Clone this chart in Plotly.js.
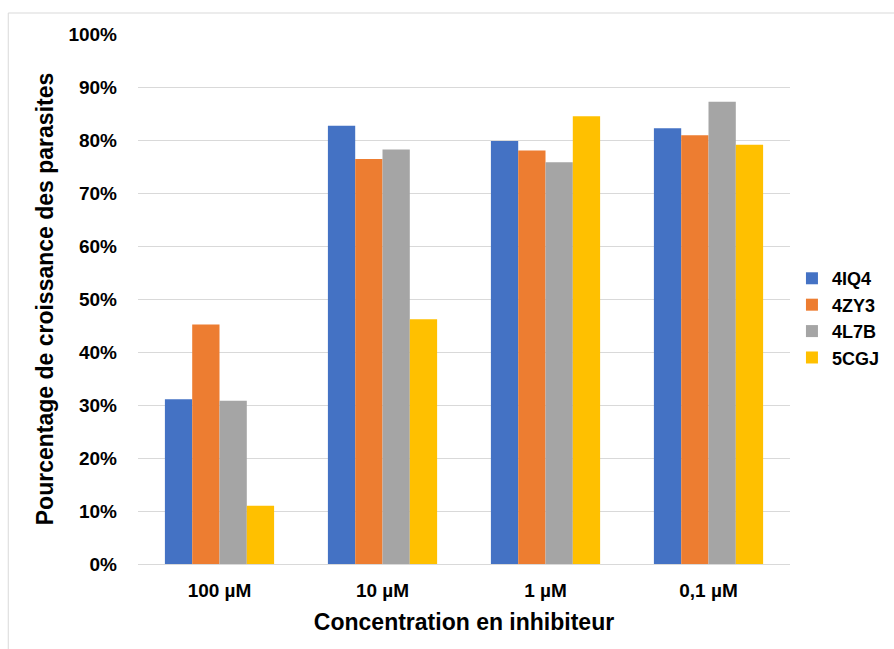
<!DOCTYPE html>
<html><head><meta charset="utf-8">
<script src="https://cdn.plot.ly/plotly-3.0.1.min.js"></script>
<style>html,body{margin:0;padding:0;background:#fff}#chart{width:894px;height:649px}</style>
</head><body><div id="chart"></div>
<script>
const categories = ["100 µM", "10 µM", "1 µM", "0,1 µM"];
const seriesNames = ["4IQ4", "4ZY3", "4L7B", "5CGJ"];
const s4IQ4 = [31.1, 82.7, 79.8, 82.2];
const s4ZY3 = [45.2, 76.4, 78.0, 80.9];
const s4L7B = [30.8, 78.2, 75.8, 87.2];
const s5CGJ = [11.0, 46.2, 84.5, 79.1];
const colors = ["#4472C4", "#ED7D31", "#A5A5A5", "#FFC000"];
const yTickVals = [0,10,20,30,40,50,60,70,80,90,100];
const yTickText = yTickVals.map(v => v + "%");

const allSeries = [s4IQ4, s4ZY3, s4L7B, s5CGJ];
const traces = allSeries.map((vals, i) => ({
  type: "bar", name: seriesNames[i], x: categories, y: vals,
  marker: {color: colors[i]}, hoverinfo: "y"
}));
const font = "Liberation Sans, Arial, sans-serif";
const layout = {
  width: 894, height: 649,
  margin: {l: 138, r: 104, t: 34, b: 85, autoexpand: false},
  paper_bgcolor: "#fff", plot_bgcolor: "#fff",
  barmode: "group", bargap: 0.33, bargroupgap: 0,
  font: {family: font, color: "#000"},
  xaxis: {
    type: "category", showgrid: false, zeroline: false, showline: true, linecolor: "#D9D9D9", linewidth: 1,
    tickfont: {size: 19, family: font, weight: "bold", color: "#000"}, ticks: "",
    ticklabelstandoff: 9,
    title: {text: "<b>Concentration en inhibiteur</b>", font: {size: 23, family: font, color: "#000"}, standoff: 14}
  },
  yaxis: {
    range: [0, 100], tickvals: yTickVals, ticktext: yTickText,
    showgrid: true, gridcolor: "#D9D9D9", gridwidth: 1, zeroline: false, showline: false, ticks: "",
    ticklabelstandoff: 20,
    tickfont: {size: 19, family: font, weight: "bold", color: "#000"},
    title: {text: "<b>Pourcentage de croissance des parasites</b>", font: {size: 23, family: font, color: "#000"}, standoff: 8}
  },
  legend: {x: 1.003, y: 0.464, xanchor: "left", yanchor: "middle", font: {size: 18, family: font, weight: "bold", color: "#000"}, tracegroupgap: 0, itemwidth: 30, bgcolor: "rgba(0,0,0,0)"},
  shapes: [{type: "rect", xref: "paper", yref: "paper", x0: -0.199, x1: 1.2, y0: -0.2, y1: 1.0396, line: {color: "#D9D9D9", width: 1}, fillcolor: "rgba(0,0,0,0)", layer: "below"}],
  showlegend: true
};
Plotly.newPlot("chart", traces, layout, {displayModeBar: false, staticPlot: true});
</script></body></html>
